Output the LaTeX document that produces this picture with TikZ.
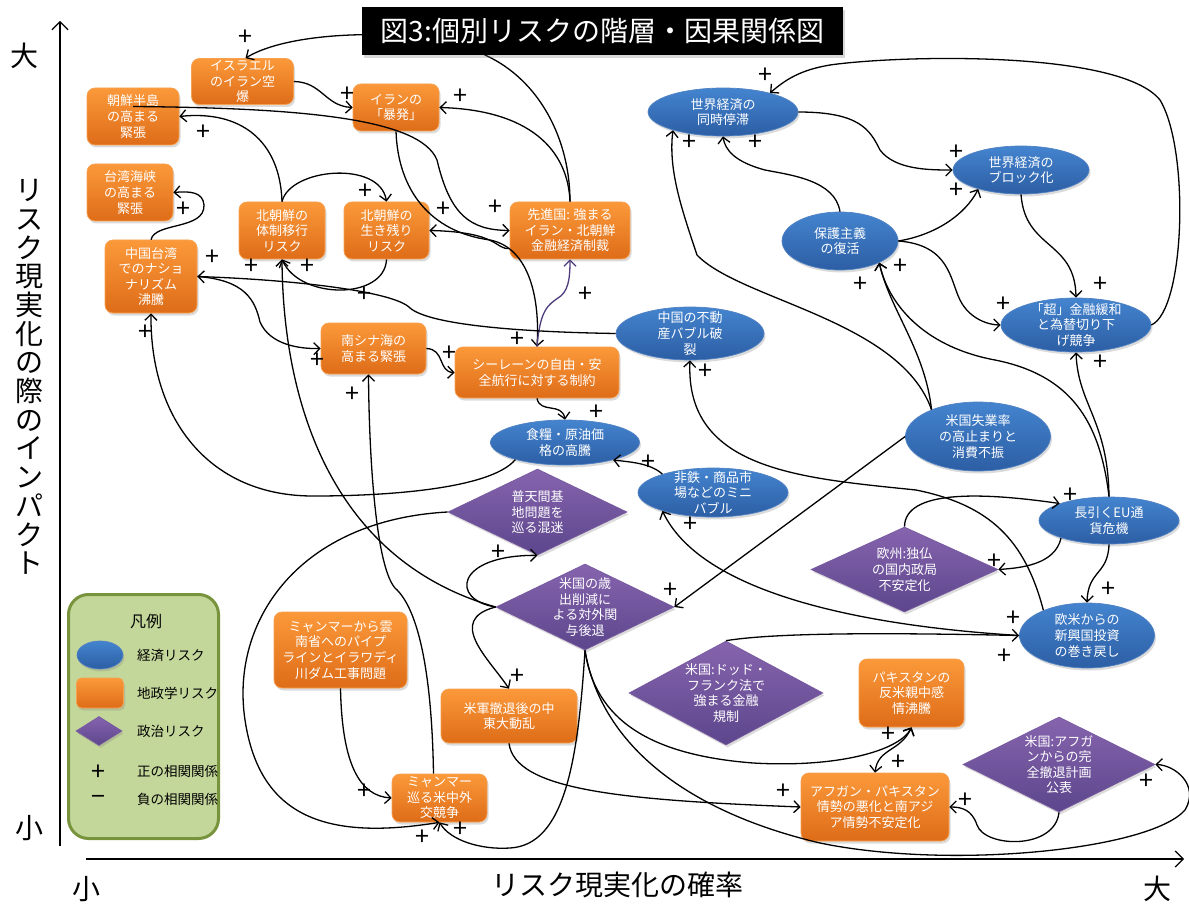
\documentclass[tikz,border=0pt]{standalone}
\usepackage{fontspec}
\setmainfont{Noto Sans CJK JP}
\usetikzlibrary{shapes.geometric,arrows.meta,shadows}
\definecolor{orgT}{RGB}{251,153,58}
\definecolor{orgB}{RGB}{222,108,24}
\definecolor{orgD}{RGB}{248,160,80}
\definecolor{bluT}{RGB}{68,132,207}
\definecolor{bluB}{RGB}{44,94,164}
\definecolor{bluD}{RGB}{80,130,195}
\definecolor{purT}{RGB}{134,100,174}
\definecolor{purB}{RGB}{92,70,140}
\definecolor{purD}{RGB}{120,90,160}
\definecolor{purE}{RGB}{80,60,125}
\definecolor{lgF}{RGB}{196,215,155}
\definecolor{lgD}{RGB}{119,147,60}
\begin{document}
\begin{tikzpicture}[x=1pt,y=-1pt,
 >={Straight Barb[length=6pt,width=12pt]},
 conn/.style={line width=1.3pt,->},
 shad/.style={drop shadow={opacity=0.28,shadow xshift=1.5pt,shadow yshift=-2.5pt}},
 geo/.style={rectangle,rounded corners=8pt,top color=orgT,bottom color=orgB,draw=orgD,line width=0.7pt,shad,inner sep=0pt},
 eco/.style={ellipse,top color=bluT,bottom color=bluB,draw=bluD,line width=0.7pt,shad,inner sep=0pt},
 pol/.style={diamond,top color=purT,bottom color=purB,draw=purD,line width=0.7pt,shad,inner sep=0pt},
 lbl/.style={text=white,align=center,font=\fontsize{13}{15.6}\selectfont,inner sep=0pt},
 pl/.style={font=\fontsize{25}{25}\selectfont,inner sep=0pt},
 ax/.style={font=\fontsize{28}{28}\selectfont,inner sep=0pt},
 lg/.style={font=\fontsize{13.5}{13.5}\selectfont,inner sep=0pt,anchor=west},
]
\fill[white] (0,0) rectangle (1189,904);
\useasboundingbox (0,0) rectangle (1189,904);

% ---------- axes ----------
\coordinate (ya) at (60,846);
\coordinate (yb) at (60,21);
\coordinate (xa) at (86,859);
\coordinate (xb) at (1184,859);
\draw[line width=1.2pt,-{Straight Barb[length=8pt,width=16pt]}] (ya) -- (yb);
\draw[line width=1.2pt,-{Straight Barb[length=8pt,width=16pt]}] (xa) -- (xb);
\node[ax] (big1) at (24,56) {大};
\node[ax] (small1) at (29,828) {小};
\node[ax] (small2) at (86,889) {小};
\node[ax] (big2) at (1157,889) {大};
\node[ax] (xlab) at (617,885) {リスク現実化の確率};
\node[font=\fontsize{28}{28.7}\selectfont,align=center,inner sep=0pt] (ylab) at (29,377)
 {リ\\ス\\ク\\現\\実\\化\\の\\際\\の\\イ\\ン\\パ\\ク\\ト};

% ---------- geopolitical (orange) ----------
\node[geo,minimum width=102,minimum height=46] (isr) at (242.5,81.5) {};
\node[lbl] (isrT) at (isr) {イスラエル\\のイラン空\\爆};
\node[geo,minimum width=92,minimum height=57] (kor) at (133,116.5) {};
\node[lbl] (korT) at (kor) {朝鮮半島\\の高まる\\緊張};
\node[geo,minimum width=86,minimum height=47] (iran) at (396,107.5) {};
\node[lbl] (iranT) at (iran) {イランの\\「暴発」};
\node[geo,minimum width=86,minimum height=57] (tws) at (130,192.5) {};
\node[lbl] (twsT) at (tws) {台湾海峡\\の高まる\\緊張};
\node[geo,minimum width=92,minimum height=73] (cnt) at (151,276.5) {};
\node[lbl] (cntT) at (cnt) {中国台湾\\でのナショ\\ナリズム\\沸騰};
\node[geo,minimum width=86,minimum height=57] (nkt) at (282,230.5) {};
\node[lbl] (nktT) at (nkt) {北朝鮮の\\体制移行\\リスク};
\node[geo,minimum width=85,minimum height=57] (nks) at (386.5,230.5) {};
\node[lbl] (nksT) at (nks) {北朝鮮の\\生き残り\\リスク};
\node[geo,minimum width=120,minimum height=57] (sen) at (570,230.5) {};
\node[lbl] (senT) at (sen) {先進国: 強まる\\イラン・北朝鮮\\金融経済制裁};
\node[geo,minimum width=105,minimum height=51] (scs) at (373.5,348.5) {};
\node[lbl] (scsT) at (scs) {南シナ海の\\高まる緊張};
\node[geo,minimum width=164,minimum height=51] (sea) at (537,372.5) {};
\node[lbl] (seaT) at (sea) {シーレーンの自由・安\\全航行に対する制約};
\node[geo,minimum width=133,minimum height=76] (mya1) at (340.5,650) {};
\node[lbl] (mya1T) at (mya1) {ミャンマーから雲\\南省へのパイプ\\ラインとイラワディ\\川ダム工事問題};
\node[geo,minimum width=95,minimum height=48] (mya2) at (439.5,798) {};
\node[lbl] (mya2T) at (mya2) {ミャンマー\\巡る米中外\\交競争};
\node[geo,minimum width=136,minimum height=54] (usm) at (509,716) {};
\node[lbl] (usmT) at (usm) {米軍撤退後の中\\東大動乱};
\node[geo,minimum width=105,minimum height=68] (pak) at (911.5,693) {};
\node[lbl] (pakT) at (pak) {パキスタンの\\反米親中感\\情沸騰};
\node[geo,minimum width=148,minimum height=68] (afg) at (875,807) {};
\node[lbl] (afgT) at (afg) {アフガン・パキスタン\\情勢の悪化と南アジ\\ア情勢不安定化};

% ---------- economic (blue) ----------
\node[eco,minimum width=150,minimum height=48] (wld) at (723,112) {};
\node[lbl] (wldT) at (wld) {世界経済の\\同時停滞};
\node[eco,minimum width=136,minimum height=48] (blk) at (1021,170) {};
\node[lbl] (blkT) at (blk) {世界経済の\\ブロック化};
\node[eco,minimum width=116,minimum height=58] (pro) at (840,241) {};
\node[lbl] (proT) at (pro) {保護主義\\の復活};
\node[eco,minimum width=150,minimum height=54] (qe) at (1076,325) {};
\node[lbl] (qeT) at (qe) {「超」金融緩和\\と為替切り下\\げ競争};
\node[eco,minimum width=148,minimum height=53] (chn) at (690,333.5) {};
\node[lbl] (chnT) at (chn) {中国の不動\\産バブル破\\裂};
\node[eco,minimum width=149,minimum height=45] (food) at (565,442.5) {};
\node[lbl] (foodT) at (food) {食糧・原油価\\格の高騰};
\node[eco,minimum width=150,minimum height=49] (mini) at (713,492.5) {};
\node[lbl] (miniT) at (mini) {非鉄・商品市\\場などのミニ\\バブル};
\node[eco,minimum width=145,minimum height=69] (une) at (978,436.5) {};
\node[lbl] (uneT) at (une) {米国失業率\\の高止まりと\\消費不振};
\node[eco,minimum width=140,minimum height=47] (eu) at (1109,520.5) {};
\node[lbl] (euT) at (eu) {長引くEU通\\貨危機};
\node[eco,minimum width=135,minimum height=65] (inv) at (1087,635.5) {};
\node[lbl] (invT) at (inv) {欧米からの\\新興国投資\\の巻き戻し};

% ---------- political (purple) ----------
\node[pol,minimum width=179,minimum height=86] (fut) at (537.5,512) {};
\node[lbl] (futT) at (fut) {普天間基\\地問題を\\巡る混迷};
\node[pol,minimum width=178,minimum height=86] (cut) at (585,607) {};
\node[lbl] (cutT) at (cut) {米国の歳\\出削減に\\よる対外関\\与後退};
\node[pol,minimum width=194,minimum height=104] (dfa) at (726,693) {};
\node[lbl] (dfaT) at (dfa) {米国:ドッド・\\フランク法で\\強まる金融\\規制};
\node[pol,minimum width=187,minimum height=85] (deu) at (904.5,569.5) {};
\node[lbl] (deuT) at (deu) {欧州:独仏\\の国内政局\\不安定化};
\node[pol,minimum width=192,minimum height=95] (afw) at (1059,764.5) {};
\node[lbl] (afwT) at (afw) {米国:アフガ\\ンからの完\\全撤退計画\\公表};

% ---------- connectors ----------
% hidden under the title
\draw[conn] (sen.north) .. controls (570,140) and (540,80) .. (485,55) .. controls (450,30) and (300,25) .. ([xshift=3pt]isr.north);
\draw[conn] (isr.east) .. controls (322,82) and (325,106) .. (iran.west);
\draw[conn] ([yshift=10pt]kor.center) .. controls (300,108) and (420,118) .. (437,160) .. controls (450,215) and (470,230) .. (sen.west);
\draw[conn] (nkt.north) .. controls (280,140) and (240,110) .. (kor.east);
\draw[conn] (nkt.north) .. controls (290,168) and (380,160) .. (nks.north);
\draw[conn] (nks.south) .. controls (385,300) and (300,300) .. (nkt.south);
\draw[conn] (sen.north) .. controls (568,150) and (530,110) .. (iran.east);
\draw[conn] (iran.south) .. controls (398,190) and (430,232) .. (490,240) .. controls (530,248) and (540,300) .. (sea.north);
\draw[conn] ([yshift=-18pt]sen.west) .. controls (495,250) and (500,232) .. (nks.east);
\draw[conn,draw=purE] (sea.north) .. controls (540,310) and (548,305) .. (558,298) .. controls (568,292) and (570,280) .. (sen.south);
\draw[conn] (cnt.north) .. controls (155,222) and (205,230) .. (204,205) .. controls (203,192) and (190,191) .. (tws.east);
\draw[conn] (cnt.east) .. controls (245,280) and (255,300) .. (260,322) .. controls (270,345) and (300,349) .. (scs.west);
\draw[conn] (chn.west) .. controls (520,332) and (430,325) .. (410,308) .. controls (395,292) and (300,280) .. (cnt.east);
\draw[conn] (food.199) .. controls (490,490) and (380,496) .. (315,496) .. controls (210,497) and (150,420) .. (cnt.south);
\draw[conn] (scs.east) .. controls (445,349) and (438,372) .. (sea.west);
\draw[conn] (sea.south) .. controls (540,414) and (562,402) .. (food.north);
\draw[conn] (mini.160) .. controls (650,463) and (630,462) .. (food.340);
\draw[conn] (inv.west) .. controls (850,625) and (700,590) .. (mini.200);
\draw[conn] (dfa.north) .. controls (780,632) and (900,633) .. (inv.west);
\draw[conn] (inv.150) .. controls (1025,540) and (990,505) .. (916,490) .. controls (800,478) and (685,470) .. (chn.south);
\draw[conn] (une.west) -- (cut.east);
\draw[conn] (une.150) .. controls (925,350) and (890,310) .. (pro.331);
\draw[conn] (une.150) .. controls (900,320) and (740,300) .. (697,255) .. controls (682,210) and (668,170) .. (wld.200);
\draw[conn] (eu.north) .. controls (1108,420) and (1078,405) .. (qe.south);
\draw[conn] (eu.north) .. controls (1100,420) and (1070,375) .. (995,360) .. controls (930,348) and (890,310) .. (pro.331);
\draw[conn] (eu.south) .. controls (1108,575) and (1088,570) .. (inv.north);
\draw[conn] (eu.200) .. controls (1055,565) and (1020,568) .. (deu.east);
\draw[conn] (deu.north) .. controls (905,490) and (980,492) .. (eu.161);
\draw[conn] (qe.east) .. controls (1185,310) and (1190,150) .. (1160,100) .. controls (1120,50) and (900,55) .. (830,65) .. controls (800,70) and (785,80) .. (wld.22);
\draw[conn] (wld.east) .. controls (860,112) and (870,130) .. (880,150) .. controls (895,170) and (930,170) .. (blk.west);
\draw[conn] (pro.north) .. controls (835,180) and (790,175) .. (765,170) .. controls (735,162) and (725,150) .. (wld.south);
\draw[conn] (pro.east) .. controls (935,235) and (965,215) .. (blk.204);
\draw[conn] (pro.east) .. controls (950,245) and (950,280) .. (960,300) .. controls (970,320) and (990,325) .. (qe.west);
\draw[conn] (blk.south) .. controls (1025,250) and (1075,240) .. (qe.north);
\draw[conn] (cut.west) .. controls (330,560) and (283,400) .. (nkt.south);
\draw[conn] ([xshift=-6pt]mya2.north) .. controls (432,680) and (420,610) .. (395,588) .. controls (375,565) and (369,450) .. ([xshift=-5pt]scs.south);
\draw[conn] (mya1.south) .. controls (342,765) and (360,796) .. (mya2.west);
\draw[conn] (fut.west) .. controls (300,520) and (230,620) .. (245,720) .. controls (260,820) and (330,840) .. (mya2.south);
\draw[conn] (cut.south) .. controls (578,760) and (565,845) .. (510,848) .. controls (480,850) and (450,840) .. (mya2.south);
\draw[conn] (cut.west) .. controls (450,600) and (455,555) .. (fut.south);
\draw[conn] (cut.west) .. controls (445,620) and (490,660) .. (usm.north);
\draw[conn] (cut.south) .. controls (595,720) and (650,755) .. (753,763) .. controls (840,768) and (900,750) .. (pak.south);
\draw[conn] (cut.south) .. controls (600,740) and (680,810) .. (820,843) .. controls (950,870) and (1150,850) .. (1185,810) .. controls (1200,785) and (1175,765) .. (afw.east);
\draw[conn] (usm.south) .. controls (515,790) and (620,800) .. (afg.west);
\draw[conn,<->] (pak.south) .. controls (900,752) and (878,748) .. (afg.north);
\draw[conn] (afw.south) .. controls (1055,850) and (985,848) .. (977,825) .. controls (972,810) and (962,807) .. (afg.east);

% ---------- title ----------
\node[fill=black,minimum width=481,minimum height=48,inner sep=0pt,text=white,
  font=\fontsize{28}{28}\selectfont,
  drop shadow={opacity=0.3,shadow xshift=2pt,shadow yshift=-3pt}] (title) at (602.5,31) {図3:個別リスクの階層・因果関係図};

% ---------- plus signs ----------
\foreach \px/\py [count=\i] in {245/38, 347/95, 460/97, 203/133, 183/210, 212/258, 251/267, 307/267,
 365/192, 443/210, 495/208, 364/295, 317/361, 352/395, 145/333, 449/354, 517/340, 585/295,
 596/413, 648/463, 690/525, 705/372, 670/591, 498/553, 517/677, 460/830, 422/838, 364/792,
 783/792, 888/735, 898/763, 965/801, 1146/782, 1004/657, 1013/619, 1108/590, 994/562, 1070/496,
 1100/363, 1100/285, 1003/305, 956/153, 956/191, 765/76, 689/143, 755/143, 900/267, 860/285}
 {\node[pl] (p\i) at (\px,\py) {+};}

% ---------- legend ----------
\node[draw=lgD,fill=lgF,line width=3pt,rounded corners=20pt,minimum width=150,minimum height=244,inner sep=0pt] (leg) at (143.5,716.5) {};
\node[font=\fontsize{16}{16}\selectfont,inner sep=0pt] (legT) at (146,621) {凡例};
\node[eco,minimum width=46,minimum height=28] (lgE) at (100,655) {};
\node[lg] (lgEt) at (137,655) {経済リスク};
\node[geo,minimum width=47,minimum height=30,rounded corners=5pt] (lgG) at (100,693) {};
\node[lg] (lgGt) at (137,693) {地政学リスク};
\node[pol,minimum width=46,minimum height=29] (lgP) at (99,731) {};
\node[lg] (lgPt) at (137,731) {政治リスク};
\node[pl] (lgPl) at (98,773) {+};
\node[lg] (lgPlt) at (137,771) {正の相関関係};
\node[pl] (lgMi) at (98,800) {−};
\node[lg] (lgMit) at (137,799) {負の相関関係};
\end{tikzpicture}
\end{document}
